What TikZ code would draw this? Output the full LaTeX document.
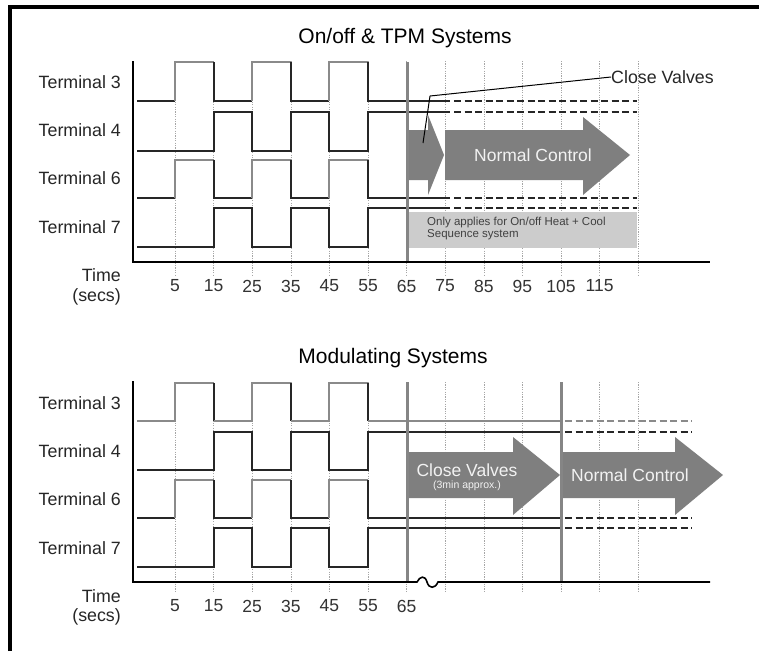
\documentclass[tikz,border=0pt]{standalone}
\usepackage{fontspec}
\setmainfont{Liberation Sans}
\definecolor{arrowgray}{HTML}{7F7F7F}
\definecolor{boxgray}{HTML}{CCCCCC}
\definecolor{thickgray}{HTML}{858585}
\definecolor{siggray}{HTML}{8A8A8A}
\begin{document}
\begin{tikzpicture}[x=1pt,y=-1pt,
  lbl/.style={font=\fontsize{17.8}{20}\selectfont, text=black!85, inner sep=0pt},
  ttl/.style={font=\fontsize{21}{24}\selectfont, text=black, inner sep=0pt},
  num/.style={font=\fontsize{17.5}{20}\selectfont, text=black!80, inner sep=0pt},
  sig/.style={line width=1.4pt, draw=black!85, line join=miter},
  siglt/.style={line width=1.3pt, draw=siggray},
  dsig/.style={line width=1.4pt, draw=black!85, dash pattern=on 7pt off 3.5pt},
  dsiglt/.style={line width=1.3pt, draw=siggray, dash pattern=on 7pt off 3.5pt},
  grid/.style={draw=black!35, line width=0.6pt, dash pattern=on 1.2pt off 1.2pt},
  axis/.style={draw=black, line width=1.6pt},
  vbar/.style={draw=thickgray, line width=3pt},
  bigarrow/.style={fill=arrowgray, draw=none},
  arrtxt/.style={font=\fontsize{17.5}{20}\selectfont, text=black!5, inner sep=0pt},
  leader/.style={draw=black, line width=1pt}
]
\useasboundingbox (0,0) rectangle (759,651);
\fill[white] (0,0) rectangle (759,651);
% frame
\draw[line width=4pt] (10,651) -- (10,7) -- (759,7);

% ================= TOP =================
\node[ttl] (title1) at (405,38) {On/off \& TPM Systems};
% grid
\foreach \t in {5,15,...,125} {
  \draw[grid] ({175+(\t-5)*3.86},61) -- ({175+(\t-5)*3.86},275);
}
% gray box
\fill[boxgray] (408,212) rectangle (637,248);
\node[anchor=north west, align=left, inner sep=0pt, text=black!75,
      font=\fontsize{11.5}{12}\selectfont] (onlynote) at (427,217)
      {Only applies for On/off Heat + Cool\\Sequence system};
% arrows
\fill[bigarrow] (407,130) -- (428,130) -- (428,115) -- (444,155) -- (428,195) -- (428,180) -- (407,180) -- cycle;
\fill[bigarrow] (445,130) -- (583,130) -- (583,117) -- (630,155) -- (583,195) -- (583,180) -- (445,180) -- cycle;
\node[arrtxt] (nc1) at (533,155) {Normal Control};
% signals
% Terminal 3
\draw[sig] (137,101) -- (175,101);
\draw[siglt] (175,101) -- (175,62) -- (214,62);
\draw[sig] (214,62) -- (214,101) -- (252,101);
\draw[siglt] (252,101) -- (252,62) -- (291,62);
\draw[sig] (291,62) -- (291,101) -- (329,101);
\draw[siglt] (329,101) -- (329,62) -- (368,62);
\draw[sig] (368,62) -- (368,101) -- (450,101);
\draw[dsig] (454,101) -- (637,101);
% Terminal 4
\draw[sig] (137,151) -- (214,151) -- (214,112) -- (252,112) -- (252,151) -- (291,151) -- (291,112) -- (329,112) -- (329,151) -- (368,151) -- (368,112) -- (450,112);
\draw[dsig] (454,112) -- (637,112);
% Terminal 6
\draw[sig] (137,198) -- (175,198);
\draw[siglt] (175,198) -- (175,160) -- (214,160);
\draw[sig] (214,160) -- (214,198) -- (252,198);
\draw[siglt] (252,198) -- (252,160) -- (291,160);
\draw[sig] (291,160) -- (291,198) -- (329,198);
\draw[siglt] (329,198) -- (329,160) -- (368,160);
\draw[sig] (368,160) -- (368,198) -- (450,198);
\draw[dsig] (454,198) -- (637,198);
% Terminal 7
\draw[sig] (137,247) -- (214,247) -- (214,208) -- (252,208) -- (252,247) -- (291,247) -- (291,208) -- (329,208) -- (329,247) -- (368,247) -- (368,208) -- (450,208);
\draw[dsig] (454,208) -- (637,208);
% thick gray line at 65
\draw[vbar] (407,62) -- (407,262);
% axes
\draw[axis] (133,61) -- (133,262) -- (710,262);
% labels
\node[lbl, anchor=east] (t3a) at (121,82) {Terminal 3};
\node[lbl, anchor=east] (t4a) at (121,130) {Terminal 4};
\node[lbl, anchor=east] (t6a) at (121,178) {Terminal 6};
\node[lbl, anchor=east] (t7a) at (121,227) {Terminal 7};
\node[lbl, anchor=east] (timea) at (121,275) {Time};
\node[lbl, anchor=east] (secsa) at (121,297) {(secs)};
\foreach \t in {5,15,...,115} {
  \node[num] (na\t) at ({175+(\t-5)*3.86},286) {\t};
}
% close valves leader
\node[lbl, anchor=west] (cv1) at (611,77) {Close Valves};
\coordinate (cvk) at (430,96);
\coordinate (cve) at (423,143);
\draw[leader] (cv1.west) -- (cvk) -- (cve);

% ================= BOTTOM =================
\node[ttl] (title2) at (393,358) {Modulating Systems};
\foreach \t in {5,15,...,125} {
  \draw[grid] ({175+(\t-5)*3.86},382) -- ({175+(\t-5)*3.86},592);
}
% arrows
\fill[bigarrow] (407,452) -- (513,452) -- (513,437) -- (560,475) -- (513,515) -- (513,498) -- (407,498) -- cycle;
\fill[bigarrow] (563,452) -- (675,452) -- (675,437) -- (723,475) -- (675,515) -- (675,498) -- (563,498) -- cycle;
\node[arrtxt] (cv2) at (467,470) {Close Valves};
\node[font=\fontsize{10.5}{12}\selectfont, text=black!5, inner sep=0pt] (approx) at (467,486) {(3min approx.)};
\node[arrtxt] (nc2) at (630,475) {Normal Control};
% Terminal 3
\draw[siglt] (137,421) -- (175,421) -- (175,383) -- (214,383);
\draw[sig] (214,383) -- (214,421);
\draw[siglt] (214,421) -- (252,421) -- (252,383) -- (291,383);
\draw[sig] (291,383) -- (291,421);
\draw[siglt] (291,421) -- (329,421) -- (329,383) -- (368,383);
\draw[sig] (368,383) -- (368,421);
\draw[siglt] (368,421) -- (561,421);
\draw[dsiglt] (565,421) -- (692,421);
% Terminal 4
\draw[sig] (137,470) -- (214,470) -- (214,432) -- (252,432) -- (252,470) -- (291,470) -- (291,432) -- (329,432) -- (329,470) -- (368,470) -- (368,432) -- (561,432);
\draw[dsig] (565,432) -- (692,432);
% Terminal 6
\draw[sig] (137,518) -- (175,518);
\draw[siglt] (175,518) -- (175,480) -- (214,480);
\draw[sig] (214,480) -- (214,518) -- (252,518);
\draw[siglt] (252,518) -- (252,480) -- (291,480);
\draw[sig] (291,480) -- (291,518) -- (329,518);
\draw[siglt] (329,518) -- (329,480) -- (368,480);
\draw[sig] (368,480) -- (368,518) -- (561,518);
\draw[dsig] (565,518) -- (692,518);
% Terminal 7
\draw[sig] (137,567) -- (214,567) -- (214,528) -- (252,528) -- (252,567) -- (291,567) -- (291,528) -- (329,528) -- (329,567) -- (368,567) -- (368,528) -- (561,528);
\draw[dsig] (565,528) -- (692,528);
% thick gray lines
\draw[vbar] (407,382) -- (407,582);
\draw[vbar] (561,382) -- (561,582);
% axes
\draw[axis] (133,381) -- (133,582) -- (417,582)
  .. controls (420,576) and (425,575) .. (427,582)
  .. controls (429,589) and (435,589) .. (438,582) -- (710,582);
% labels
\node[lbl, anchor=east] (t3b) at (121,403) {Terminal 3};
\node[lbl, anchor=east] (t4b) at (121,451) {Terminal 4};
\node[lbl, anchor=east] (t6b) at (121,499) {Terminal 6};
\node[lbl, anchor=east] (t7b) at (121,548) {Terminal 7};
\node[lbl, anchor=east] (timeb) at (121,596) {Time};
\node[lbl, anchor=east] (secsb) at (121,617) {(secs)};
\foreach \t in {5,15,...,65} {
  \node[num] (nb\t) at ({175+(\t-5)*3.86},606) {\t};
}
\end{tikzpicture}
\end{document}
